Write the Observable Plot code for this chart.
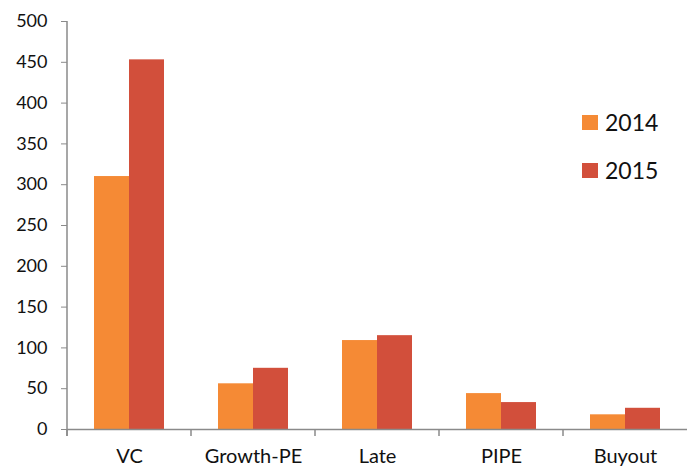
<!DOCTYPE html>
<html><head><meta charset="utf-8">
<script src="https://cdn.jsdelivr.net/npm/d3@7"></script>
<script src="https://cdn.jsdelivr.net/npm/@observablehq/plot@0.6"></script>
<style>
body{margin:0;background:#fff;}
#wrap{position:relative;width:688px;height:466px;overflow:hidden;}
.legend{position:absolute;left:582px;top:110px;font-family:Lato,"Open Sans",sans-serif;font-size:23px;color:#111;}
.legend .row{display:flex;align-items:center;height:24px;margin-bottom:24px;}
.legend .sw{width:16px;height:15px;margin-right:7px;}
</style></head><body><div id="wrap"></div>
<script>
const categories = ["VC", "Growth-PE", "Late", "PIPE", "Buyout"];
const years = ["2014", "2015"];
const values2014 = [310, 56, 109, 44, 18];
const values2015 = [453, 75, 115, 33, 26];
const yTicks = [0, 50, 100, 150, 200, 250, 300, 350, 400, 450, 500];
const colors = ["#F58A35", "#D24F3B"];
const axisColor = "#8a8a8a";

const rows = categories.flatMap((c, i) => [
  {cat: c, year: years[0], v: values2014[i]},
  {cat: c, year: years[1], v: values2015[i]}
]);

const plot = Plot.plot({
  width: 688,
  height: 466,
  marginLeft: 66,
  marginRight: 0,
  marginTop: 21,
  marginBottom: 37,
  style: {fontFamily: "Lato, 'Open Sans', sans-serif", fontSize: "18px", color: "#111", background: "#fff"},
  fx: {domain: categories, padding: 0, label: null},
  x: {domain: years, paddingInner: 0, paddingOuter: 0.73, axis: null},
  y: {domain: [0, 500], label: null},
  color: {domain: years, range: colors},
  marks: [
    Plot.axisY({ticks: yTicks, tickSize: 6, tickPadding: 14, stroke: axisColor, label: null, fontSize: 18}),
    Plot.axisFx({anchor: "bottom", tickSize: 0, tickPadding: 19, label: null, fontSize: 20}),
    Plot.barY(rows, {fx: "cat", x: "year", y: "v", fill: "year", inset: 0}),
    Plot.ruleY([0], {stroke: axisColor, strokeWidth: 1.5})
  ]
});

// axis lines & category boundary ticks derived from the plot's scales
const svg = d3.select(plot);
const fx = plot.scale("fx");
const y = plot.scale("y");
const y0 = y.apply(0), yTop = y.apply(500);
const bounds = categories.map(c => fx.apply(c));
const g = svg.append("g").attr("stroke", axisColor).attr("stroke-width", 1.5);
g.append("line").attr("x1", bounds[0]).attr("x2", bounds[0]).attr("y1", yTop).attr("y2", y0 + 7);
bounds.forEach(b => g.append("line").attr("x1", b).attr("x2", b).attr("y1", y0).attr("y2", y0 + 7));

document.getElementById("wrap").appendChild(plot);

const legend = document.createElement("div");
legend.className = "legend";
years.forEach((yr, i) => {
  const row = document.createElement("div");
  row.className = "row";
  row.innerHTML = `<span class="sw" style="background:${colors[i]}"></span><span>${yr}</span>`;
  legend.appendChild(row);
});
document.getElementById("wrap").appendChild(legend);
</script>
</body></html>
